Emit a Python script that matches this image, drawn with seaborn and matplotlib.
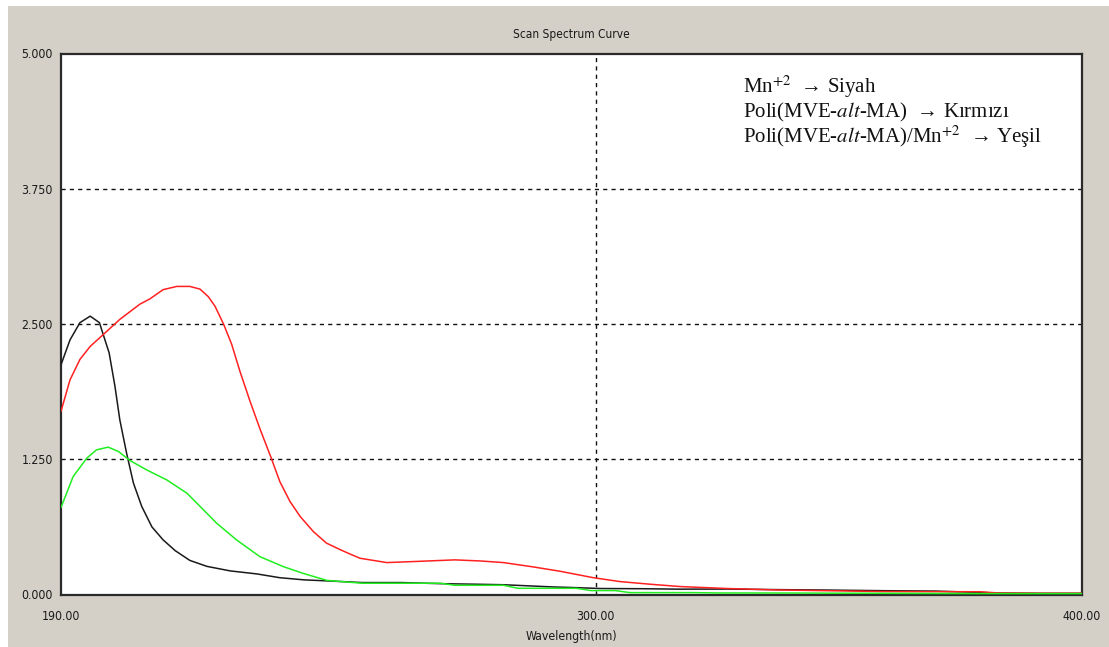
import matplotlib
matplotlib.use("Agg")
import matplotlib.pyplot as plt
from matplotlib import font_manager
from matplotlib.patches import Rectangle
import seaborn as sns
import pandas as pd

# Absorbance spectra (wavelength in nm, absorbance)
wl_mn = [190, 191.85, 193.9, 196.0, 197.9, 199.9, 201.1, 202.1, 203.5, 204.9, 206.6,
         208.7, 211.0, 213.5, 216.5, 220.0, 224.8, 230.3, 235.0, 240, 245, 252, 260,
         268, 275, 281, 286, 291, 296, 301, 310, 317, 327, 337, 347, 359, 370, 383,
         392, 400]
abs_mn = [2.12, 2.35, 2.51, 2.57, 2.51, 2.23, 1.92, 1.61, 1.30, 1.025, 0.81,
          0.62, 0.50, 0.40, 0.31, 0.255, 0.213, 0.185, 0.15, 0.13, 0.12, 0.105, 0.105,
          0.095, 0.09, 0.085, 0.075, 0.065, 0.058, 0.05, 0.048, 0.044, 0.045, 0.04,
          0.036, 0.03, 0.026, 0.008, 0.005, 0.005]

wl_poly = [190, 191.85, 193.9, 196.0, 198.7, 202.1, 206.2, 208.3, 211.0, 213.8,
           216.5, 218.6, 220.3, 221.7, 223.5, 225.1, 226.8, 228.9, 230.9, 233.3,
           235.0, 237.1, 239.2, 241.9, 244.6, 247.4, 249.4, 251.5, 257.0, 262.8,
           271.0, 276.2, 281.0, 287.1, 292.6, 299.5, 305, 311.1, 317.4, 327, 337,
           347, 359, 379, 383, 392, 400]
abs_poly = [1.69, 1.98, 2.17, 2.29, 2.40, 2.54, 2.68, 2.73, 2.815, 2.845,
            2.845, 2.82, 2.75, 2.66, 2.49, 2.31, 2.06, 1.78, 1.53, 1.25,
            1.04, 0.855, 0.716, 0.577, 0.47, 0.41, 0.37, 0.33, 0.29, 0.30,
            0.315, 0.305, 0.29, 0.25, 0.21, 0.15, 0.114, 0.09, 0.068, 0.05, 0.037,
            0.03, 0.022, 0.02, 0.008, 0.006, 0.006]

wl_complex = [190, 192.5, 195.3, 197.3, 199.7, 201.8, 204.2, 207.6, 211.7, 215.9,
              218.6, 222.0, 226.1, 230.9, 235.7, 239.8, 244.7, 248.8, 252, 268,
              271, 281, 284, 296, 299, 304, 307, 320, 325, 340, 357, 379, 400]
abs_complex = [0.80, 1.086, 1.256, 1.333, 1.358, 1.318, 1.234, 1.148, 1.056, 0.932,
               0.81, 0.655, 0.50, 0.345, 0.253, 0.19, 0.125, 0.11, 0.099, 0.099,
               0.08, 0.08, 0.052, 0.052, 0.031, 0.031, 0.012, 0.012, 0.009, 0.008,
               0.006, 0.003, 0.003]

series_names = ["Mn", "Poli", "Poli/Mn"]
series_colors = ["#1a1a1a", "#ff2020", "#20ee20"]

x_ticks = [190, 300, 400]
x_ticklabels = ["190.00", "300.00", "400.00"]
y_ticks = [0, 1.25, 2.5, 3.75, 5.0]
y_ticklabels = ["0.000", "1.250", "2.500", "3.750", "5.000"]

legend_lines = [
    r"Mn$^{+2}$  → Siyah",
    r"Poli(MVE-$\mathit{alt}$-MA)  → Kırmızı",
    r"Poli(MVE-$\mathit{alt}$-MA)/Mn$^{+2}$  → Yeşil",
]

frames = []
for name, wl, ab in zip(series_names,
                        [wl_mn, wl_poly, wl_complex],
                        [abs_mn, abs_poly, abs_complex]):
    frames.append(pd.DataFrame({"wl": wl, "abs": ab, "series": name}))
df = pd.concat(frames, ignore_index=True)

sns.set_style("white")

# pick a narrow sans face for the window captions when one is available
ui_font = {"family": ["Liberation Sans", "DejaVu Sans"], "size": 8.4}
installed = {f.name for f in font_manager.fontManager.ttflist}
if "Liberation Sans Narrow" in installed:
    ui_font = {"family": ["Liberation Sans Narrow", "DejaVu Sans"], "size": 10.0}
else:
    condensed = [f for f in font_manager.fontManager.ttflist
                 if f.name == "DejaVu Sans" and "Condensed" in f.fname
                 and "Bold" not in f.fname and "Oblique" not in f.fname]
    if condensed:
        ui_font = {"fname": condensed[0].fname, "size": 8.8}


def ui_props(size=None):
    if "fname" in ui_font:
        return font_manager.FontProperties(fname=ui_font["fname"],
                                           size=size or ui_font["size"])
    return font_manager.FontProperties(family=ui_font["family"],
                                       size=size or ui_font["size"])


plt.rcParams["font.family"] = ["Liberation Sans", "DejaVu Sans"]
plt.rcParams["mathtext.fontset"] = "stix"

W, H = 1109, 647
fig = plt.figure(figsize=(W / 100, H / 100), dpi=100)
fig.patch.set_facecolor("white")
# grey window panel with thin white strip on top and left
fig.add_artist(Rectangle((8 / W, 0), 1 - 8 / W, 1 - 6 / H, transform=fig.transFigure,
                         facecolor="#d4d0c8", edgecolor="none", zorder=0))

left, right, top, bottom = 61, 1082, 53.5, 595
ax = fig.add_axes([left / W, 1 - bottom / H, (right - left) / W, (bottom - top) / H])
ax.set_facecolor("white")

# dashed reference grid
for yv in [1.25, 2.5, 3.75]:
    ax.axhline(yv, color="#111111", lw=1.0, ls=(0, (3, 3)), zorder=1)
ax.axvline(300, color="#111111", lw=1.0, ls=(0, (3, 3)), zorder=1)

sns.lineplot(data=df, x="wl", y="abs", hue="series", hue_order=series_names,
             palette=series_colors, sort=False, estimator=None, lw=1.1,
             legend=False, ax=ax, zorder=3)

ax.set_xlim(190, 400)
ax.set_ylim(-0.01, 5.0)
ax.set_xticks(x_ticks)
ax.set_xticklabels(x_ticklabels, fontproperties=ui_props())
ax.set_yticks(y_ticks)
ax.set_yticklabels(y_ticklabels, fontproperties=ui_props())
ax.tick_params(axis="both", length=0, colors="#1a1a1a")
ax.tick_params(axis="x", pad=11)
ax.tick_params(axis="y", pad=6)
ax.set_xlabel("Wavelength(nm)", fontproperties=ui_props(), color="#1a1a1a", labelpad=5)
ax.set_ylabel("")
ax.set_title("Scan Spectrum Curve", fontproperties=ui_props(8.6), color="#1a1a1a", pad=11)

for side in ["left", "top", "right", "bottom"]:
    ax.spines[side].set_visible(True)
    ax.spines[side].set_color("#2a2a2a")
    ax.spines[side].set_linewidth(1.6)

for i, line in enumerate(legend_lines):
    ax.text((743 - left) / (right - left), (bottom - (87 + 25 * i)) / (bottom - top), line,
            transform=ax.transAxes, ha="left", va="center", fontsize=15,
            family=["Liberation Serif", "DejaVu Serif"], color="#111111", zorder=5)

fig.savefig("out.png", dpi=100, facecolor=fig.get_facecolor())
